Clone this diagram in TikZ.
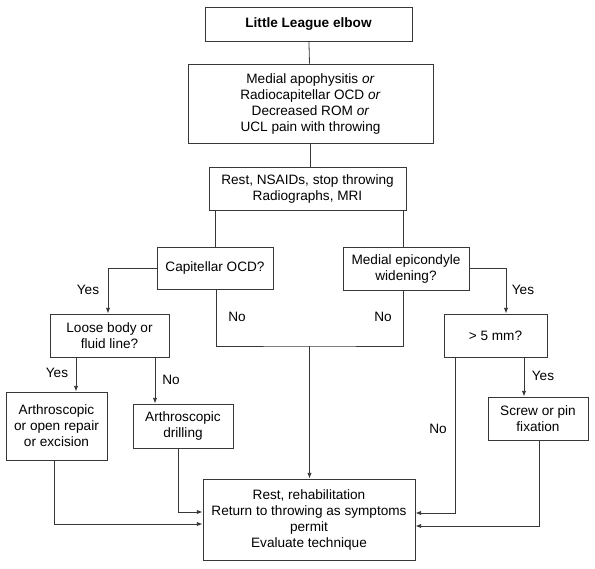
\documentclass[tikz,border=0pt]{standalone}
\usepackage{fontspec}
\setmainfont{Liberation Sans}
\usetikzlibrary{arrows.meta,positioning,calc}
\definecolor{LineGray}{RGB}{55,55,55}

\begin{document}
\begin{tikzpicture}[
  x=1pt,y=-1pt,
  box/.style={
    draw=LineGray,line width=0.8pt,align=center,
    inner sep=2pt,font=\fontsize{13.6}{16}\selectfont
  },
  lnk/.style={LineGray,line width=0.8pt},
  arr/.style={lnk,-{Latex[length=2mm,width=1.5mm]}},
  lbl/.style={font=\fontsize{13.6}{16}\selectfont}
]
  \useasboundingbox (0,0) rectangle (595,569);
  % boxes
  \node[box,minimum width=207pt,minimum height=34pt] (elbow) at (308.5,24)
    {\textbf{Little League elbow}};
  \node[box,minimum width=245pt,minimum height=79pt] (symp) at (310.5,103.5)
    {Medial apophysitis \textit{or}\\
     Radiocapitellar OCD \textit{or}\\
     Decreased ROM \textit{or}\\
     UCL pain with throwing};
  \node[box,minimum width=197pt,minimum height=43pt] (rest) at (307.5,188.5)
    {Rest, NSAIDs, stop throwing\\ Radiographs, MRI};
  \node[box,minimum width=116pt,minimum height=42pt] (ocd) at (215,268)
    {Capitellar OCD?};
  \node[box,minimum width=126pt,minimum height=43pt] (medepi) at (406,268.5)
    {Medial epicondyle\\ widening?};
  \node[box,minimum width=119pt,minimum height=43pt] (loose) at (109.5,335.5)
    {Loose body or\\ fluid line?};
  \node[box,minimum width=103pt,minimum height=43pt] (fivemm) at (495.5,335.5)
    {> 5 mm?};
  \node[box,minimum width=101pt,minimum height=68pt] (repair) at (56.5,426)
    {Arthroscopic\\ or open repair\\ or excision};
  \node[box,minimum width=100pt,minimum height=44pt] (drill) at (183,426)
    {Arthroscopic\\ drilling};
  \node[box,minimum width=100pt,minimum height=43pt] (screw) at (538,418.5)
    {Screw or pin\\ fixation};
  \node[box,minimum width=212pt,minimum height=81pt] (rehab) at (309,519.5)
    {Rest, rehabilitation\\
     Return to throwing as symptoms\\
     permit\\
     Evaluate technique};
  \coordinate (nojoin) at (309.5,346);

  % connectors
  \draw[lnk] (elbow) -- (symp);
  \draw[lnk] (symp) -- (symp |- rest.north);
  \draw[lnk] (rest.south -| ocd) -- (ocd.north);
  \draw[lnk] ([xshift=-3pt]rest.south -| medepi) -- ([xshift=-3pt]medepi.north);
  \draw[arr] (ocd.west) -| ([xshift=-1.5pt]loose.north);
  \draw[arr] (medepi.east) -| ([xshift=10.5pt]fivemm.north);
  \draw[lnk] ([xshift=1pt]ocd.south) |- (nojoin) -| ([xshift=-3pt]medepi.south);
  \draw[arr] (nojoin) -- (nojoin |- rehab.north);
  \draw[arr] ([xshift=-33.5pt]loose.south) -- ([xshift=-33.5pt]loose.south |- repair.north);
  \draw[arr] ([xshift=45.5pt]loose.south) -- ([xshift=45.5pt]loose.south |- drill.north);
  \draw[arr] ([xshift=-5pt]drill.south) |- ([yshift=7.5pt]rehab.west);
  \draw[arr] ([xshift=-2.5pt]repair.south) |- ([yshift=-4.5pt]rehab.west);
  \draw[arr] ([xshift=-40.5pt]fivemm.south) |- ([yshift=6.5pt]rehab.east);
  \draw[arr] ([xshift=28.5pt]fivemm.south) -- ([xshift=28.5pt]fivemm.south |- screw.north);
  \draw[arr] ([xshift=1pt]screw.south) |- ([yshift=-6.5pt]rehab.east);

  % labels
  \node[lbl] (yesocd) at (88,290) {Yes};
  \node[lbl] (noocd) at (237,317) {No};
  \node[lbl] (nomed) at (383,317) {No};
  \node[lbl] (yesmed) at (523,290) {Yes};
  \node[lbl] (yesloose) at (57,373) {Yes};
  \node[lbl] (noloose) at (171,380) {No};
  \node[lbl] (nofive) at (438,429) {No};
  \node[lbl] (yesfive) at (543,376) {Yes};
\end{tikzpicture}
\end{document}
